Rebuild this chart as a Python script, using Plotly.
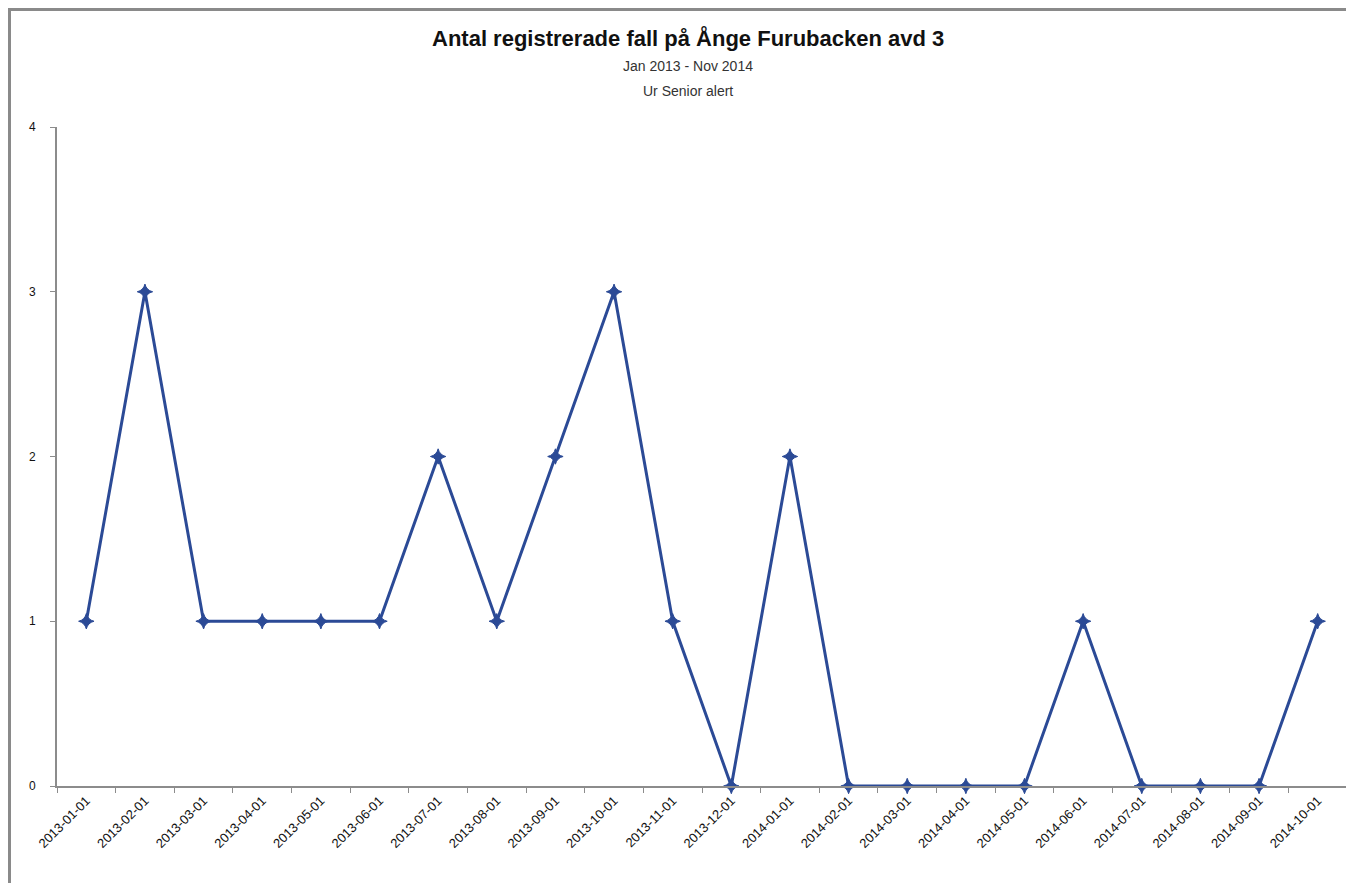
import plotly.graph_objects as go

months = ["2013-01-01", "2013-02-01", "2013-03-01", "2013-04-01", "2013-05-01", "2013-06-01",
          "2013-07-01", "2013-08-01", "2013-09-01", "2013-10-01", "2013-11-01", "2013-12-01",
          "2014-01-01", "2014-02-01", "2014-03-01", "2014-04-01", "2014-05-01", "2014-06-01",
          "2014-07-01", "2014-08-01", "2014-09-01", "2014-10-01"]
falls = [1, 3, 1, 1, 1, 1, 2, 1, 2, 3, 1, 0, 2, 0, 0, 0, 0, 1, 0, 0, 0, 1]
y_ticks = [0, 1, 2, 3, 4]

title = "Antal registrerade fall på Ånge Furubacken avd 3"
subtitle1 = "Jan 2013 - Nov 2014"
subtitle2 = "Ur Senior alert"

# page body has an 8px default margin; compensate so screen positions match
OFF = 8
W, H = 1354 - OFF, 883 - OFF
ml, mt = 57 - OFF, 127 - OFF
mr = W - (1347 - OFF)
mb = H - (786 - OFF)
pw = W - ml - mr
ph = H - mt - mb

fig = go.Figure()
fig.add_trace(go.Scatter(
    x=months, y=falls, mode="lines+markers",
    line=dict(color="#2B4A96", width=3),
    marker=dict(symbol="star-diamond", size=11, color="#2B4A96",
                line=dict(color="#2B4A96", width=1)),
    cliponaxis=False, showlegend=False,
))

def px_x(p):
    return (p - OFF - ml) / pw

def px_y(p):
    return (H - mb - (p - OFF)) / ph

fig.update_layout(
    width=W, height=H,
    margin=dict(l=ml, r=mr, t=mt, b=mb, autoexpand=False),
    paper_bgcolor="white", plot_bgcolor="white",
    font=dict(family="Liberation Sans, Arial, sans-serif", color="#333333"),
    xaxis=dict(type="category", categoryorder="array", categoryarray=months,
               range=[-0.5, len(months) - 0.5], automargin=False,
               showline=True, linecolor="#8C8C8C", linewidth=2,
               ticks="outside", tickson="boundaries", ticklen=5, tickcolor="#8C8C8C",
               tickangle=-45, tickfont=dict(size=13, color="#111111"),
               showgrid=False, zeroline=False),
    yaxis=dict(range=[0, 4], tickvals=y_ticks, automargin=False,
               showline=True, linecolor="#8C8C8C", linewidth=2,
               ticks="outside", ticklen=5, tickcolor="#8C8C8C", ticklabelstandoff=12,
               tickfont=dict(size=12, color="#111111"),
               showgrid=False, zeroline=False),
    annotations=[
        dict(text="<b>" + title + "</b>", x=px_x(688), y=px_y(38), xref="paper", yref="paper",
             showarrow=False, font=dict(size=22, color="#111111"),
             xanchor="center", yanchor="middle"),
        dict(text=subtitle1, x=px_x(688), y=px_y(66), xref="paper", yref="paper",
             showarrow=False, font=dict(size=14, color="#333333"),
             xanchor="center", yanchor="middle"),
        dict(text=subtitle2, x=px_x(688), y=px_y(91), xref="paper", yref="paper",
             showarrow=False, font=dict(size=14, color="#333333"),
             xanchor="center", yanchor="middle"),
    ],
    shapes=[
        dict(type="line", xref="paper", yref="paper", x0=px_x(9.5), x1=px_x(9.5), y0=px_y(8), y1=px_y(883),
             line=dict(color="#8A8A8A", width=3)),
        dict(type="line", xref="paper", yref="paper", x0=px_x(8), x1=px_x(1354), y0=px_y(9.5), y1=px_y(9.5),
             line=dict(color="#8A8A8A", width=3)),
        dict(type="line", xref="paper", yref="paper", x0=px_x(1348), x1=px_x(1348), y0=px_y(11), y1=px_y(883),
             line=dict(color="#E6E6E6", width=2)),
    ],
)

fig.write_html("out.html")
